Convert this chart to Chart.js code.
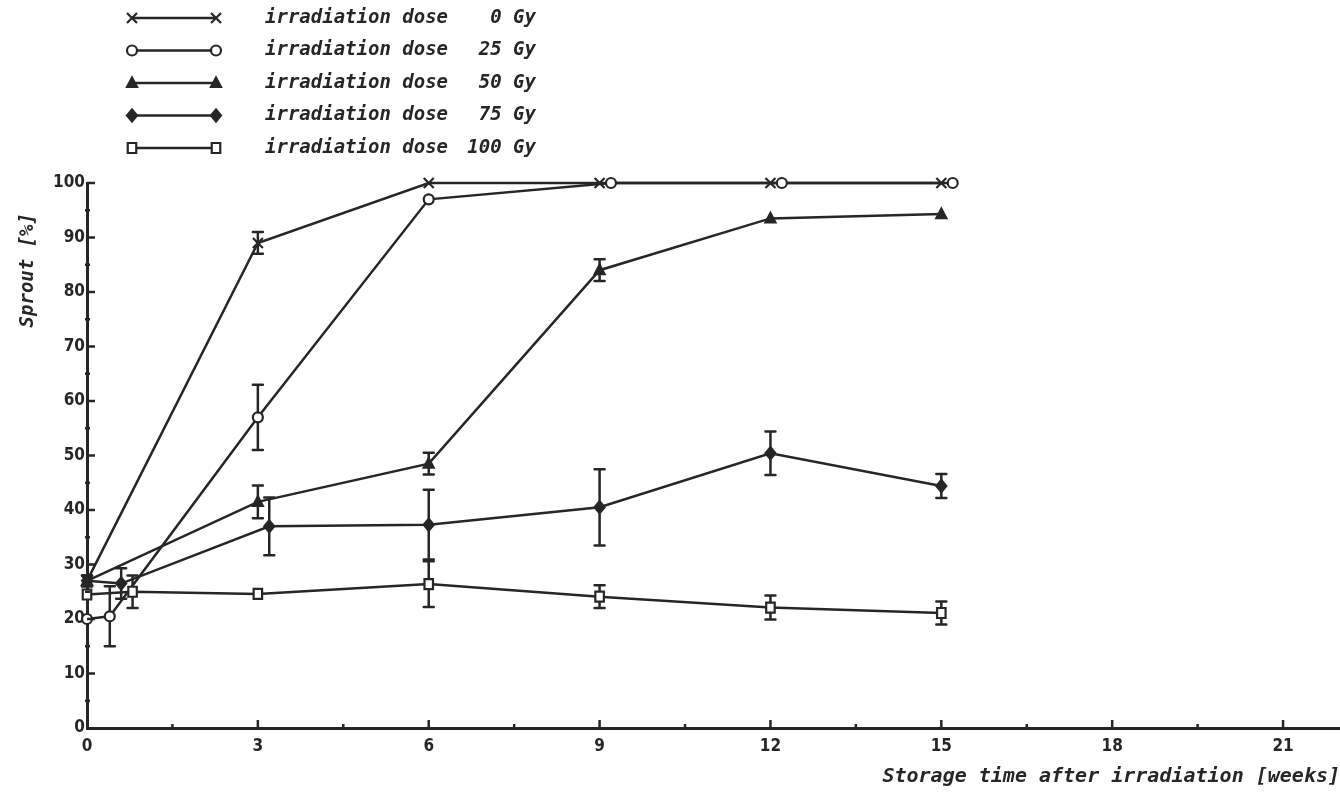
<!DOCTYPE html>
<html><head><meta charset="utf-8">
<script src="https://cdn.jsdelivr.net/npm/chart.js@4"></script>
<style>html,body{margin:0;padding:0;background:#fff;}#wrap{width:1340px;height:796px;position:relative}</style>
</head><body><div id="wrap"><canvas id="c" width="1340" height="796"></canvas></div>
<script>
// ---- data ----
const doses = ['0 Gy', '25 Gy', '50 Gy', '75 Gy', '100 Gy'];
const weeks0 = [0, 3, 6, 9, 12, 15];
const sprout0 = [27, 89, 100, 100, 100, 100];
const err0 = [1, 2, 0, 0, 0, 0];
const weeks25 = [0, 0.4, 3, 6, 9.2, 12.2, 15.2];
const sprout25 = [20, 20.5, 57, 97, 100, 100, 100];
const err25 = [0, 5.5, 6, 0.5, 0, 0, 0];
const weeks50 = [0, 3, 6, 9, 12, 15];
const sprout50 = [27, 41.5, 48.5, 84, 93.5, 94.3];
const err50 = [1, 3, 2, 2, 0.5, 0.5];
const weeks75 = [0, 0.6, 3.2, 6, 9, 12, 15];
const sprout75 = [27, 26.5, 37, 37.3, 40.5, 50.4, 44.4];
const err75 = [0, 2.8, 5.3, 6.4, 7, 4, 2.2];
const weeks100 = [0, 0.8, 3, 6, 9, 12, 15];
const sprout100 = [24.5, 25, 24.6, 26.4, 24.1, 22.1, 21.1];
const err100 = [0, 3, 0.5, 4.2, 2.1, 2.2, 2.1];
const xTicks = [0, 3, 6, 9, 12, 15, 18, 21];
const yTicks = [0, 10, 20, 30, 40, 50, 60, 70, 80, 90, 100];
const xTitle = 'Storage time after irradiation [weeks]';
const yTitle = 'Sprout [%]';
const legendPrefix = 'irradiation dose';

const INK = '#262626';
const series = [
  {w: weeks0, v: sprout0, e: err0, shape: 'crossRot', bg: INK},
  {w: weeks25, v: sprout25, e: err25, shape: 'circle', bg: '#fff'},
  {w: weeks50, v: sprout50, e: err50, shape: 'triangle', bg: INK},
  {w: weeks75, v: sprout75, e: err75, shape: 'rectRot', bg: INK},
  {w: weeks100, v: sprout100, e: err100, shape: 'rect', bg: '#fff'}
];

function marker(ctx, shape, x, y, r, bg) {
  ctx.save();
  ctx.strokeStyle = INK; ctx.fillStyle = bg; ctx.lineWidth = 2.2;
  ctx.beginPath();
  if (shape === 'crossRot') {
    ctx.moveTo(x - r, y - r); ctx.lineTo(x + r, y + r);
    ctx.moveTo(x + r, y - r); ctx.lineTo(x - r, y + r);
    ctx.stroke();
  } else {
    if (shape === 'circle') ctx.arc(x, y, r, 0, Math.PI * 2);
    else if (shape === 'triangle') { ctx.moveTo(x, y - r * 1.1); ctx.lineTo(x + r, y + r * 0.8); ctx.lineTo(x - r, y + r * 0.8); ctx.closePath(); }
    else if (shape === 'rectRot') { ctx.moveTo(x, y - r * 1.2); ctx.lineTo(x + r, y); ctx.lineTo(x, y + r * 1.2); ctx.lineTo(x - r, y); ctx.closePath(); }
    else if (shape === 'rect') { ctx.rect(x - r * 0.85, y - r, r * 1.7, r * 2); }
    ctx.fill(); ctx.stroke();
  }
  ctx.restore();
}

const datasets = series.map((s, i) => ({
  label: legendPrefix + ' ' + doses[i],
  data: s.w.map((w, j) => ({x: w, y: s.v[j]})),
  errs: s.e, shape: s.shape, bgc: s.bg,
  borderColor: INK, borderWidth: 2.5, tension: 0, clip: false,
  pointRadius: 0, pointHoverRadius: 0, fill: false
}));

const paperPlugin = {
  id: 'paper',
  afterDatasetsDraw(chart) {
    const ctx = chart.ctx, ys = chart.scales.y;
    chart.data.datasets.forEach((ds, di) => {
      const meta = chart.getDatasetMeta(di);
      meta.data.forEach((pt, j) => {
        const e = ds.errs[j];
        const val = ds.data[j].y;
        if (e > 0.6) {
          const y1 = ys.getPixelForValue(val + e), y2 = ys.getPixelForValue(val - e);
          ctx.save(); ctx.strokeStyle = INK; ctx.lineWidth = 2.5; ctx.lineCap = 'round';
          ctx.beginPath();
          ctx.moveTo(pt.x, y1); ctx.lineTo(pt.x, y2);
          ctx.moveTo(pt.x - 5, y1); ctx.lineTo(pt.x + 5, y1);
          ctx.moveTo(pt.x - 5, y2); ctx.lineTo(pt.x + 5, y2);
          ctx.stroke(); ctx.restore();
        }
        marker(ctx, ds.shape, pt.x, pt.y, 5, ds.bgc);
      });
    });
  },
  afterDraw(chart) {
    const ctx = chart.ctx, ys = chart.scales.y, xs = chart.scales.x;
    const ax = xs.getPixelForValue(0), ay = ys.getPixelForValue(0);
    ctx.save(); ctx.strokeStyle = INK; ctx.lineWidth = 2.5;
    ctx.beginPath();
    for (let v = 5; v <= 100; v += 5) {
      const y = ys.getPixelForValue(v);
      const major = v % 10 === 0;
      ctx.moveTo(ax - (major ? 0 : 2), y); ctx.lineTo(ax + (major ? 8 : 3), y);
    }
    for (let v = 1.5; v <= 22; v += 1.5) {
      const x = xs.getPixelForValue(v);
      const major = Math.abs(v % 3) < 1e-6;
      ctx.moveTo(x, ay); ctx.lineTo(x, ay - (major ? 8 : 4));
    }
    ctx.stroke(); ctx.restore();
    // y axis title (placed as in the original, near the top of the axis)
    ctx.save();
    ctx.fillStyle = INK;
    ctx.font = 'italic bold 19px "DejaVu Sans Mono", "Liberation Mono", monospace';
    ctx.translate(28, ys.getPixelForValue(84));
    ctx.rotate(-Math.PI / 2);
    ctx.textAlign = 'center'; ctx.textBaseline = 'middle';
    ctx.fillText(yTitle, 0, 0);
    ctx.restore();
    // legend
    ctx.save();
    chart.data.datasets.forEach((ds, i) => {
      const y = 18 + i * 32.5;
      ctx.strokeStyle = INK; ctx.lineWidth = 2.5;
      ctx.beginPath(); ctx.moveTo(132, y); ctx.lineTo(216, y); ctx.stroke();
      marker(ctx, ds.shape, 132, y, 5, ds.bgc);
      marker(ctx, ds.shape, 216, y, 5, ds.bgc);
      ctx.fillStyle = INK;
      ctx.font = 'italic bold 19px "DejaVu Sans Mono", "Liberation Mono", monospace';
      ctx.textBaseline = 'middle';
      ctx.textAlign = 'left';
      ctx.fillText(legendPrefix, 265, y);
      ctx.textAlign = 'right';
      ctx.fillText(doses[i], 536, y);
    });
    ctx.restore();
  }
};

const tickFont = {family: '"DejaVu Sans Condensed", "DejaVu Sans", sans-serif', weight: 'bold', size: 17};
const titleFont = {family: '"DejaVu Sans Mono", "Liberation Mono", monospace', weight: 'bold', style: 'italic', size: 20};

new Chart(document.getElementById('c'), {
  type: 'line',
  data: {datasets},
  options: {
    responsive: false, animation: false, devicePixelRatio: 1,
    layout: {padding: {top: 183, left: 0, right: 0, bottom: 0}},
    plugins: {legend: {display: false}, tooltip: {enabled: false}},
    scales: {
      x: {
        type: 'linear', min: 0, max: 22,
        afterBuildTicks: s => { s.ticks = xTicks.map(v => ({value: v})); },
        afterFit: s => { s.height = 68; },
        grid: {display: false, drawTicks: false},
        border: {display: true, width: 3, color: INK},
        ticks: {color: INK, font: tickFont, padding: 8, maxRotation: 0, autoSkip: false},
        title: {display: true, text: xTitle, align: 'end', color: INK, font: titleFont, padding: {top: 0, bottom: 7}}
      },
      y: {
        type: 'linear', min: 0, max: 100,
        afterBuildTicks: s => { s.ticks = yTicks.map(v => ({value: v})); },
        afterFit: s => { s.width = 87; },
        grid: {display: false, drawTicks: false},
        border: {display: true, width: 3, color: INK},
        ticks: {color: INK, font: tickFont, padding: 2, autoSkip: false},
        title: {display: false, text: yTitle}
      }
    }
  },
  plugins: [paperPlugin]
});
</script></body></html>
